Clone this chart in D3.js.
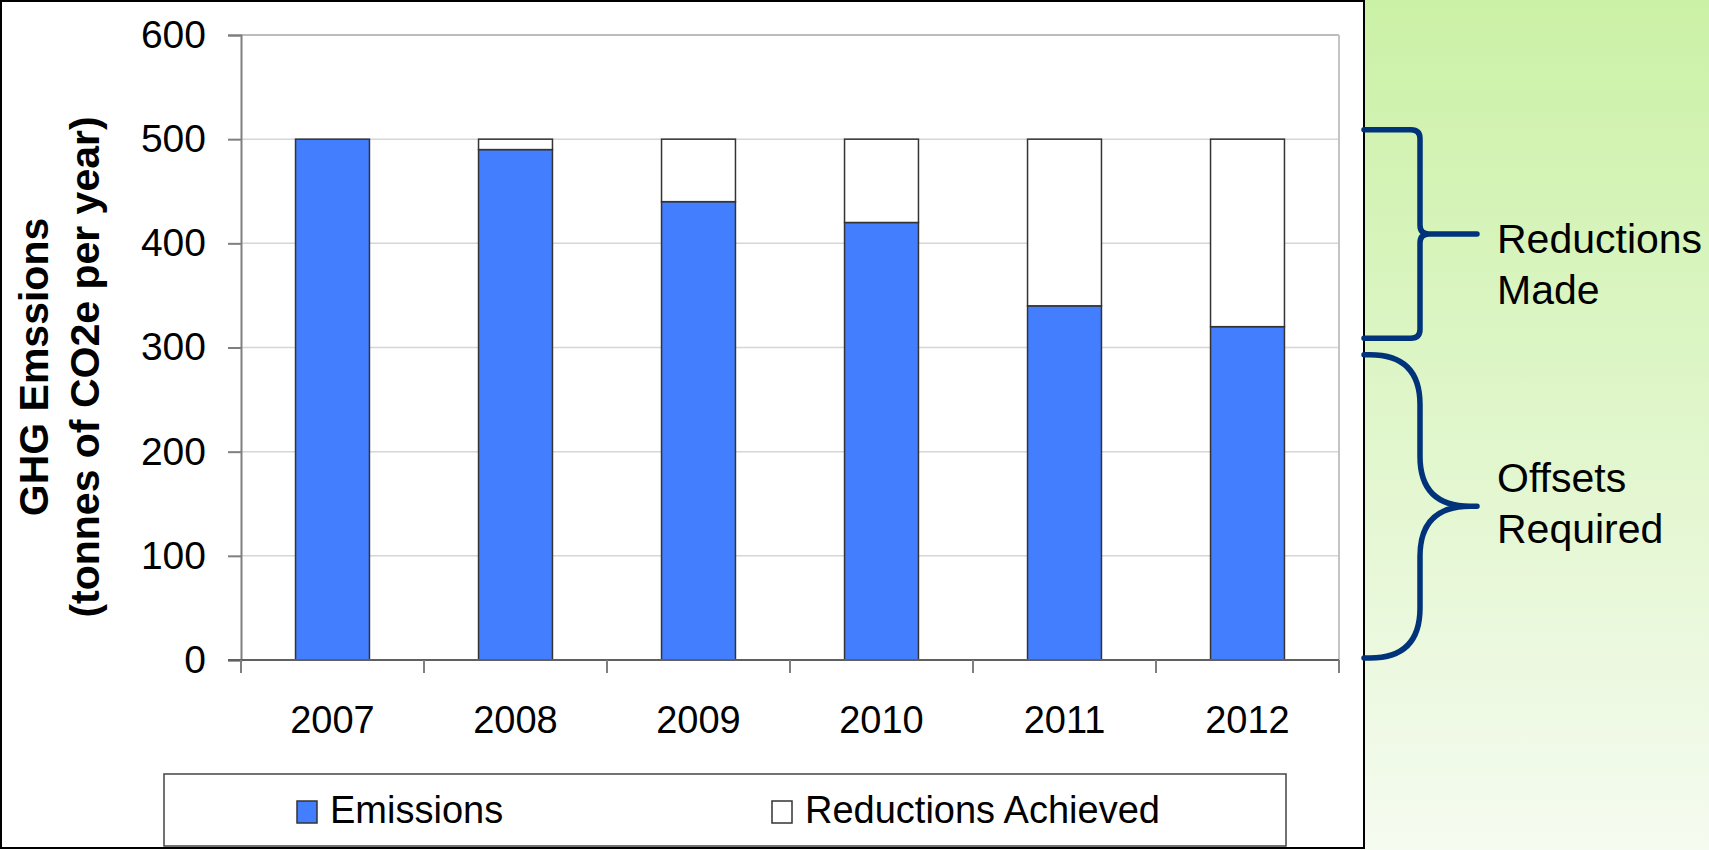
<!DOCTYPE html>
<html>
<head>
<meta charset="utf-8">
<script src="https://cdn.jsdelivr.net/npm/d3@7"></script>
<style>
  body { margin: 0; background: #fff; }
  text { font-family: "Liberation Sans", Arial, sans-serif; }
</style>
</head>
<body>
<div id="chart"></div>
<script>
// data
const years = ["2007", "2008", "2009", "2010", "2011", "2012"];
const emissions = [500, 490, 440, 420, 340, 320];
const reductions = [0, 10, 60, 80, 160, 180];
const yTicks = [0, 100, 200, 300, 400, 500, 600];
const seriesNames = ["Emissions", "Reductions Achieved"];
const seriesColors = ["#437eff", "#ffffff"];
// brace ranges, in chart units
const braces = [
  { label: ["Reductions", "Made"], from: 309, to: 509, r: 9, dy: 19 },
  { label: ["Offsets", "Required"], from: 2, to: 293, r: 50, dy: -14 }
];

const W = 1709, H = 850;
const frameW = 1364;
const plotL = 241, plotR = 1339, plotT = 35, plotB = 660;

const svg = d3.select("#chart").append("svg")
  .attr("width", W).attr("height", H);

// green panel on the right
const grad = svg.append("defs").append("linearGradient")
  .attr("id", "green").attr("x1", 0).attr("y1", 0).attr("x2", 0).attr("y2", 1);
grad.append("stop").attr("offset", "0%").attr("stop-color", "#cbf1a6");
grad.append("stop").attr("offset", "100%").attr("stop-color", "#f5fbf0");
svg.append("rect").attr("x", frameW).attr("y", 0)
  .attr("width", W - frameW).attr("height", H).attr("fill", "url(#green)");

// chart frame
svg.append("rect").attr("x", 1).attr("y", 1)
  .attr("width", frameW - 1).attr("height", H - 3)
  .attr("fill", "#fff").attr("stroke", "#000").attr("stroke-width", 2);

const x = d3.scaleBand().domain(years).range([plotL, plotR])
  .paddingInner(0.596).paddingOuter(0.298);
const y = d3.scaleLinear().domain([0, 600]).range([plotB, plotT]);

// gridlines
svg.append("g").selectAll("line")
  .data(yTicks.filter(d => d > 0))
  .join("line")
  .attr("x1", plotL).attr("x2", plotR)
  .attr("y1", d => y(d)).attr("y2", d => y(d))
  .attr("stroke", d => d === 600 ? "#a6a6a6" : "#d6d6d6")
  .attr("stroke-width", 1.5);
svg.append("line")
  .attr("x1", plotR).attr("x2", plotR).attr("y1", plotT).attr("y2", plotB)
  .attr("stroke", "#c4c4c4").attr("stroke-width", 2);

// stacked bars
const table = years.map((yr, i) => ({ year: yr, Emissions: emissions[i], "Reductions Achieved": reductions[i] }));
const stacked = d3.stack().keys(seriesNames)(table);

svg.append("g").selectAll("g")
  .data(stacked)
  .join("g")
  .attr("fill", (d, i) => seriesColors[i])
  .selectAll("rect")
  .data(d => d.filter(s => s[1] - s[0] > 0))
  .join("rect")
  .attr("x", d => x(d.data.year))
  .attr("width", x.bandwidth())
  .attr("y", d => y(d[1]))
  .attr("height", d => y(d[0]) - y(d[1]))
  .attr("stroke", "#333")
  .attr("stroke-width", 1.5);

// y axis
const yAxis = svg.append("g")
  .attr("transform", `translate(${plotL},0)`)
  .call(d3.axisLeft(y).tickValues(yTicks).tickSize(13).tickPadding(22));
yAxis.select(".domain").attr("stroke", "#7f7f7f").attr("stroke-width", 2);
yAxis.selectAll(".tick line").attr("stroke", "#7f7f7f").attr("stroke-width", 2);
yAxis.selectAll(".tick text")
  .attr("font-size", 39).attr("fill", "#000")
  .attr("font-family", "Liberation Sans, Arial, sans-serif");

// x axis: ticks between categories
const xa = svg.append("g");
xa.append("line").attr("x1", plotL - 13).attr("x2", plotR)
  .attr("y1", plotB).attr("y2", plotB)
  .attr("stroke", "#606060").attr("stroke-width", 2);
const edges = years.map(yr => x(yr) - x.step() * x.paddingInner() / 2).concat([plotR]);
xa.selectAll("line.t").data(edges).join("line").attr("class", "t")
  .attr("x1", d => d).attr("x2", d => d)
  .attr("y1", plotB).attr("y2", plotB + 13)
  .attr("stroke", "#7f7f7f").attr("stroke-width", 2);
xa.selectAll("text").data(years).join("text")
  .attr("x", d => x(d) + x.bandwidth() / 2)
  .attr("y", 733)
  .attr("text-anchor", "middle")
  .attr("font-size", 38)
  .text(d => d);

// y axis title
const yt = svg.append("text")
  .attr("transform", `translate(48,367) rotate(-90)`)
  .attr("text-anchor", "middle")
  .attr("font-size", 41).attr("font-weight", "bold");
yt.append("tspan").attr("x", 0).attr("dy", 0).text("GHG Emssions");
yt.append("tspan").attr("x", 0).attr("dy", 51).text("(tonnes of CO2e per year)");

// legend
svg.append("rect").attr("x", 164).attr("y", 774)
  .attr("width", 1122).attr("height", 72)
  .attr("fill", "#fff").attr("stroke", "#444").attr("stroke-width", 1.5);
const legendX = [297, 772];
const lg = svg.append("g").selectAll("g").data(seriesNames).join("g")
  .attr("transform", (d, i) => `translate(${legendX[i]},801)`);
lg.append("rect").attr("width", 20).attr("height", 22)
  .attr("fill", (d, i) => seriesColors[i]).attr("stroke", "#333").attr("stroke-width", 1.5);
lg.append("text").attr("x", 33).attr("y", 22)
  .attr("font-size", 38).text(d => d);

// braces on the right
const x0 = frameW, xs = 1420, xt = 1477;
function bracePath(t, b, r) {
  const m = (t + b) / 2;
  return `M${x0},${t} L${xs - r},${t} Q${xs},${t} ${xs},${t + r} ` +
    `L${xs},${m - r} Q${xs},${m} ${xs + r},${m} L${xt},${m} ` +
    `M${xs + r},${m} Q${xs},${m} ${xs},${m + r} ` +
    `L${xs},${b - r} Q${xs},${b} ${xs - r},${b} L${x0},${b}`;
}
const bg = svg.append("g").selectAll("g").data(braces).join("g");
bg.append("path")
  .attr("d", d => bracePath(y(d.to), y(d.from), d.r))
  .attr("fill", "none").attr("stroke", "#00337a")
  .attr("stroke-width", 5.5).attr("stroke-linecap", "round");
bg.append("text")
  .attr("x", 1497)
  .attr("y", d => (y(d.to) + y(d.from)) / 2 + d.dy)
  .attr("font-size", 41)
  .selectAll("tspan").data(d => d.label).join("tspan")
  .attr("x", 1497).attr("dy", (d, i) => i === 0 ? 0 : 51)
  .text(d => d);
</script>
</body>
</html>
